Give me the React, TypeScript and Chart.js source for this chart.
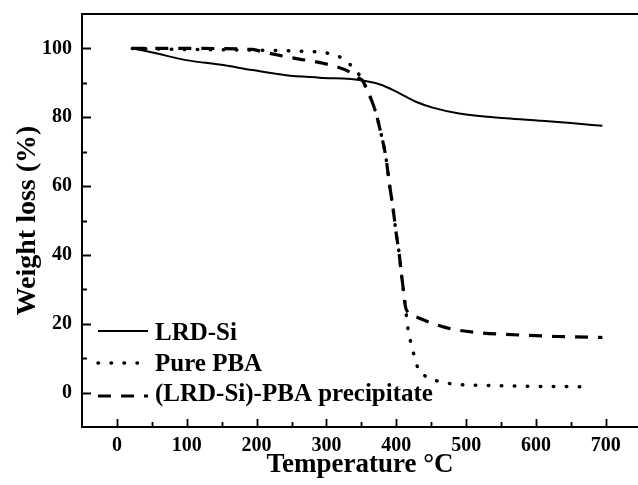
import React, { useEffect, useRef } from "react";
import { Chart, registerables } from "chart.js";

Chart.register(...registerables);

// ---- data ----
const lrdTemp = [22, 51, 99, 147, 194, 242, 290, 352, 380, 404, 428, 452, 490, 557, 605, 650, 695];
const lrdWeight = [100, 98.8, 96.6, 95.3, 93.7, 92.2, 91.5, 90.7, 89.3, 87.0, 84.5, 82.8, 81.1, 79.7, 79.0, 78.3, 77.5];

const pbaTemp = [22, 100, 200, 261, 285, 304, 323, 335, 344, 352, 361, 371, 378, 385, 390, 395, 400, 404, 407, 410, 413, 416, 421, 426, 431, 443, 462, 481, 548, 600, 680];
const pbaWeight = [100, 99.7, 99.5, 99.2, 99.0, 98.5, 97.1, 95.1, 93.2, 90.5, 86.7, 81.1, 75.3, 68.5, 60.8, 54, 46, 40.5, 35, 30, 25, 19.5, 14.3, 10.5, 7.1, 4.6, 3.2, 2.5, 2.0, 1.8, 1.7];

const precTemp = [22, 100, 194, 209, 242, 261, 285, 314, 333, 345, 352, 361, 371, 378, 385, 390, 395, 400, 404, 407, 410, 413, 416, 425, 433, 462, 481, 519, 557, 591, 629, 653, 695];
const precWeight = [100, 100, 99.7, 99.0, 97.6, 96.9, 96.1, 94.7, 93.2, 91.5, 90.5, 86.7, 81.1, 75.3, 68.5, 60.8, 54, 46, 40.5, 35, 30, 25, 23.5, 22.3, 21.6, 19.4, 18.4, 17.4, 16.9, 16.6, 16.3, 16.2, 16.0];

const seriesLabels = ["LRD-Si", "Pure PBA", "(LRD-Si)-PBA precipitate"];

const xMajorTicks = [0, 100, 200, 300, 400, 500, 600, 700];
const xMinorTicks = [50, 150, 250, 350, 450, 550, 650];
const yMajorTicks = [0, 20, 40, 60, 80, 100];
const yMinorTicks = [10, 30, 50, 70, 90];

const xTitle = "Temperature \u00B0C";
const yTitle = "Weight loss (%)";

const FONT = "'Liberation Serif', 'Times New Roman', serif";

function pts(xs: number[], ys: number[]) {
  return xs.map((x, i) => ({ x, y: ys[i] }));
}

const framePlugin = {
  id: "frameTicks",
  afterDatasetsDraw(chart: any) {
    const { ctx, chartArea } = chart;
    const xs = chart.scales.x;
    const ys = chart.scales.y;
    ctx.save();
    ctx.strokeStyle = "#000";
    ctx.lineWidth = 2;
    ctx.lineCap = "butt";
    ctx.beginPath();
    ctx.moveTo(chartArea.right, chartArea.top);
    ctx.lineTo(chartArea.left, chartArea.top);
    ctx.lineTo(chartArea.left, chartArea.bottom);
    ctx.lineTo(chartArea.right, chartArea.bottom);
    ctx.stroke();
    ctx.lineWidth = 1.8;
    ctx.beginPath();
    xMajorTicks.forEach((v) => {
      const p = Math.round(xs.getPixelForValue(v)) + 0.5;
      ctx.moveTo(p, chartArea.bottom);
      ctx.lineTo(p, chartArea.bottom - 8);
    });
    xMinorTicks.forEach((v) => {
      const p = Math.round(xs.getPixelForValue(v)) + 0.5;
      ctx.moveTo(p, chartArea.bottom);
      ctx.lineTo(p, chartArea.bottom - 5);
    });
    yMajorTicks.forEach((v) => {
      const p = Math.round(ys.getPixelForValue(v)) + 0.5;
      ctx.moveTo(chartArea.left, p);
      ctx.lineTo(chartArea.left + 9, p);
    });
    yMinorTicks.forEach((v) => {
      const p = Math.round(ys.getPixelForValue(v)) + 0.5;
      ctx.moveTo(chartArea.left, p);
      ctx.lineTo(chartArea.left + 5, p);
    });
    ctx.stroke();
    ctx.restore();
  },
  afterDraw(chart: any) {
    const { ctx } = chart;
    const lineY = [331, 363, 396];
    const baseY = [340, 371, 401];
    ctx.save();
    chart.data.datasets.forEach((ds: any, i: number) => {
      ctx.strokeStyle = "#000";
      ctx.lineWidth = ds.borderWidth;
      ctx.lineCap = ds.borderCapStyle || "butt";
      ctx.setLineDash(ds.borderDash || []);
      ctx.lineDashOffset = 0;
      ctx.beginPath();
      ctx.moveTo(98, lineY[i]);
      ctx.lineTo(148, lineY[i]);
      ctx.stroke();
      ctx.setLineDash([]);
      ctx.fillStyle = "#000";
      ctx.font = `bold 25px ${FONT}`;
      ctx.textBaseline = "alphabetic";
      ctx.textAlign = "left";
      ctx.fillText(ds.label, 155, baseY[i]);
    });
    ctx.restore();
  },
};

export default function App() {
  const canvasRef = useRef<HTMLCanvasElement>(null);

  useEffect(() => {
    if (!canvasRef.current) return;
    const chart = new Chart(canvasRef.current, {
      type: "line",
      data: {
        datasets: [
          {
            label: seriesLabels[0],
            data: pts(lrdTemp, lrdWeight),
            borderColor: "#000",
            borderWidth: 2,
            pointRadius: 0,
            fill: false,
            cubicInterpolationMode: "monotone",
          },
          {
            label: seriesLabels[1],
            data: pts(pbaTemp, pbaWeight),
            borderColor: "#000",
            borderWidth: 3.5,
            borderDash: [0.5, 12.5],
            borderCapStyle: "round",
            pointRadius: 0,
            fill: false,
            cubicInterpolationMode: "monotone",
          },
          {
            label: seriesLabels[2],
            data: pts(precTemp, precWeight),
            borderColor: "#000",
            borderWidth: 3.2,
            borderDash: [13, 10],
            pointRadius: 0,
            fill: false,
            cubicInterpolationMode: "monotone",
          },
        ],
      },
      options: {
        animation: false,
        responsive: true,
        maintainAspectRatio: false,
        layout: { padding: { top: 14, left: 0, right: 0, bottom: 0 } },
        plugins: { legend: { display: false }, tooltip: { enabled: false } },
        scales: {
          x: {
            type: "linear",
            min: -50,
            max: 746,
            grid: { display: false, drawTicks: false },
            border: { display: false },
            afterBuildTicks: (s: any) => {
              s.ticks = xMajorTicks.map((v) => ({ value: v }));
            },
            afterFit: (s: any) => {
              s.height = 58;
              s.paddingLeft = 0;
              s.paddingRight = 0;
            },
            ticks: {
              padding: 7,
              color: "#000",
              font: { family: FONT, size: 20, weight: "bold" },
              maxRotation: 0,
              autoSkip: false,
            },
            title: {
              display: true,
              text: xTitle,
              color: "#000",
              font: { family: FONT, size: 27, weight: "bold" },
              padding: { top: 0, bottom: 4 },
            },
          },
          y: {
            type: "linear",
            min: -10,
            max: 110,
            grid: { display: false, drawTicks: false },
            border: { display: false },
            afterBuildTicks: (s: any) => {
              s.ticks = yMajorTicks.map((v) => ({ value: v }));
            },
            afterFit: (s: any) => {
              s.width = 82;
              s.paddingTop = 0;
              s.paddingBottom = 0;
            },
            ticks: {
              padding: 10,
              color: "#000",
              font: { family: FONT, size: 20, weight: "bold" },
              autoSkip: false,
            },
            title: {
              display: true,
              text: yTitle,
              color: "#000",
              font: { family: FONT, size: 28, weight: "bold" },
              padding: { top: 11, bottom: 0 },
            },
          },
        },
      },
      plugins: [framePlugin],
    } as any);
    return () => chart.destroy();
  }, []);

  return (
    <div style={{ position: "fixed", left: 0, top: 0, width: 638, height: 485, background: "#fff" }}>
      <canvas ref={canvasRef} />
    </div>
  );
}
